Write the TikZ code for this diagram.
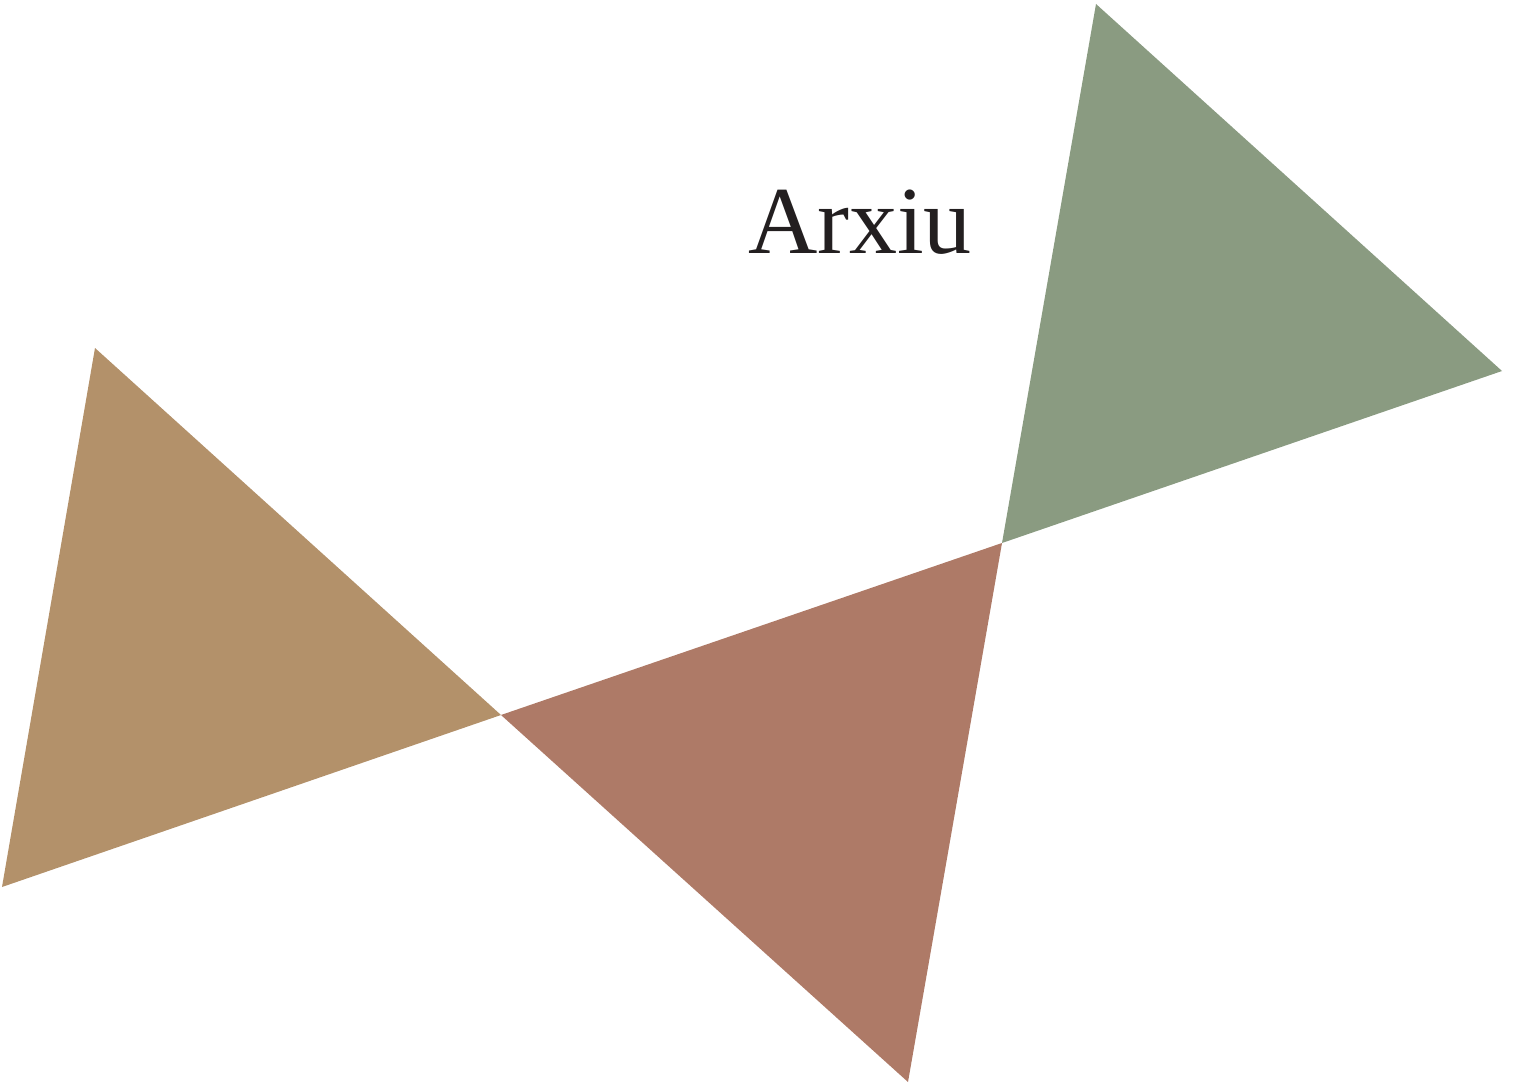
\documentclass[tikz,border=0pt]{standalone}
\usepackage{fontspec}
\setmainfont{Liberation Serif}
\definecolor{mytan}{HTML}{B3916A}
\definecolor{myrust}{HTML}{AE7A67}
\definecolor{mysage}{HTML}{8A9B81}
\definecolor{myink}{HTML}{231F20}
\usetikzlibrary{positioning}
\tikzset{
	flagshape/.style={
			draw=none,
			line join=miter
		},
	titlenode/.style={
			text=myink,
			inner sep=0pt,
			anchor=base,
			font=\fontsize{96}{100}\selectfont
		}
}
\begin{document}
\begin{tikzpicture}[x=1pt, y=-1pt]
\useasboundingbox (0,0) rectangle (1521,1086);

\coordinate (a1) at (95,348);
\coordinate (a2) at (501,715);
\coordinate (a3) at (2,887);
\coordinate (b2) at (1002,543);
\coordinate (b3) at (908,1082);
\coordinate (c1) at (1096,4);
\coordinate (c2) at (1502,371);

% three flags
\fill[flagshape, mytan] (a1) -- (a2) -- (a3) -- cycle;
\fill[flagshape, myrust] (a2) -- (b2) -- (b3) -- cycle;
\fill[flagshape, mysage] (c1) -- (c2) -- (b2) -- cycle;

\node[titlenode] (title) at (860,254) {Arxiu};
\end{tikzpicture}
\end{document}
